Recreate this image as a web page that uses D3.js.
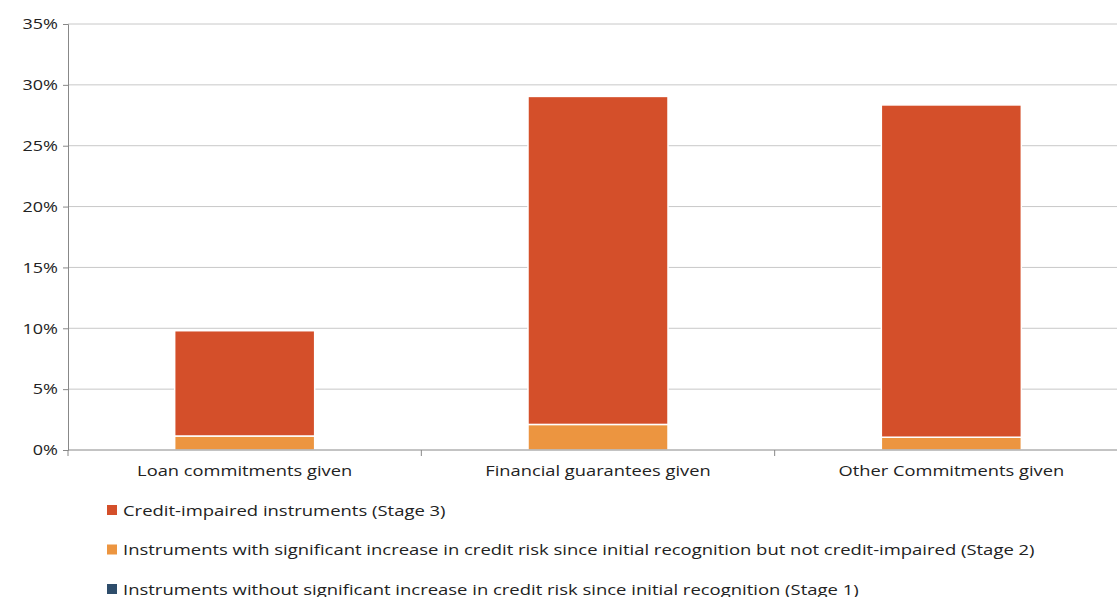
<!DOCTYPE html>
<html><head><meta charset="utf-8">
<script src="https://cdn.jsdelivr.net/npm/d3@7"></script>
<style>body{margin:0;background:#fff;font-family:"Open Sans",sans-serif;}</style>
</head><body>
<svg id="chart" width="1117" height="597"></svg>
<script>
const categories = ["Loan commitments given", "Financial guarantees given", "Other Commitments given"];
const stage1 = [0.0, 0.0, 0.0];
const stage2 = [1.15, 2.1, 1.05];
const stage3 = [8.65, 26.95, 27.3];
const seriesNames = [
  "Credit-impaired instruments (Stage 3)",
  "Instruments with significant increase in credit risk since initial recognition but not credit-impaired (Stage 2)",
  "Instruments without significant increase in credit risk since initial recognition (Stage 1)"
];
const colors = ["#d44f2a", "#ec9540", "#2e4d6b"];
const yTicks = [0, 5, 10, 15, 20, 25, 30, 35];

const svg = d3.select("#chart");
const m = {left: 68, right: 1128, top: 24, bottom: 450};
const x = d3.scaleBand().domain(categories).range([m.left, 1128]).paddingInner(0).paddingOuter(0);
const y = d3.scaleLinear().domain([0, 35]).range([m.bottom, m.top]);

// stretch text horizontally like the reference
function widen(sel, k) {
  sel.each(function() {
    const w = this.getComputedTextLength();
    d3.select(this).attr("textLength", w * k).attr("lengthAdjust", "spacingAndGlyphs");
  });
}

svg.append("g").selectAll("line").data(yTicks.slice(1)).enter().append("line")
  .attr("x1", m.left).attr("x2", 1117).attr("y1", d => y(d)).attr("y2", d => y(d))
  .attr("stroke", "#c8c8c8").attr("stroke-width", 1);

const rows = categories.map((c, i) => ({cat: c, s1: stage1[i], s2: stage2[i], s3: stage3[i]}));
const stack = d3.stack().keys(["s1", "s2", "s3"])(rows);
const bw = 140;
svg.append("g").selectAll("g").data(stack).enter().append("g")
  .attr("fill", (d, i) => colors[2 - i])
  .selectAll("rect").data(d => d).enter().append("rect")
  .attr("x", d => x(d.data.cat) + x.bandwidth() / 2 - bw / 2)
  .attr("width", bw)
  .attr("y", d => y(d[1]))
  .attr("height", d => Math.max(0, y(d[0]) - y(d[1])))
  .attr("stroke", "#fff").attr("stroke-width", 1.5);

const ya = svg.append("g").attr("transform", `translate(${m.left},0)`)
  .call(d3.axisLeft(y).tickValues(yTicks).tickFormat(d => d + "%").tickSize(5).tickPadding(5));
ya.selectAll("text").attr("font-size", 15).attr("fill", "#222").attr("font-family", "Open Sans").call(widen, 1.2);
ya.selectAll("line,path").attr("stroke", "#888");

const xa = svg.append("g").attr("transform", `translate(0,${m.bottom})`);
xa.append("line").attr("x1", m.left).attr("x2", 1117).attr("stroke", "#888");
xa.selectAll("line.t").data(categories).enter().append("line")
  .attr("x1", d => x(d)).attr("x2", d => x(d)).attr("y2", 6).attr("stroke", "#888");
xa.selectAll("text").data(categories).enter().append("text")
  .attr("x", d => x(d) + x.bandwidth() / 2).attr("y", 26)
  .attr("text-anchor", "middle").attr("font-size", 15).attr("fill", "#222").text(d => d)
  .call(widen, 1.22);

const lg = svg.append("g").selectAll("g").data(seriesNames).enter().append("g")
  .attr("transform", (d, i) => `translate(107,${510 + i * 39.5})`);
lg.append("rect").attr("x", 0).attr("y", -5).attr("width", 10).attr("height", 10)
  .attr("fill", (d, i) => colors[i]);
lg.append("text").attr("x", 16).attr("y", 5.5).attr("font-size", 15).attr("fill", "#222").text(d => d)
  .call(widen, 1.23);
</script>
</body></html>
